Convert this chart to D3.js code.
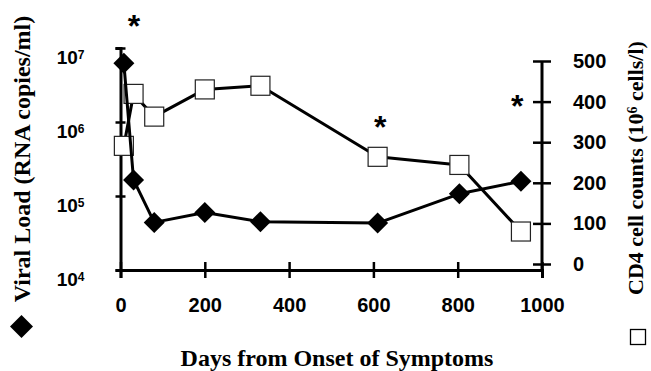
<!DOCTYPE html>
<html>
<head>
<meta charset="utf-8">
<script src="https://cdn.jsdelivr.net/npm/d3@7"></script>
<style>
  body { margin: 0; background: #fff; }
  svg { display: block; }
</style>
</head>
<body>
<div id="chart"></div>
<script>
// days after onset, shared by both series
var days = [8, 31, 80, 200, 332, 610, 804, 950]
var viralLoad = [6.2e6, 1.65e5, 4.4e4, 6.0e4, 4.5e4, 4.3e4, 1.07e5, 1.58e5]
var cd4 = [291, 419, 363, 430, 439, 264, 244, 80]

var xTicks = [0, 200, 400, 600, 800, 1000]
var vlTicks = [1e4, 1e5, 1e6, 1e7]
var cd4Ticks = [0, 100, 200, 300, 400, 500]

// significance stars (day, cd4 units)
var starDays = [32, 616, 941]
var starLevels = [600, 352, 405]

var width = 651, height = 371

var svg = d3.select("#chart")
  .append("svg")
  .attr("width", width)
  .attr("height", height)

var x = d3.scaleLinear().domain([0, 1000]).range([120.5, 542])
var yL = d3.scaleLog().domain([1e4, 1e7]).range([270, 48])
var yR = d3.scaleLinear().domain([0, 500]).range([264, 61])

var sans = "'Liberation Sans', Arial, sans-serif"
var serif = "'Liberation Serif', 'Times New Roman', serif"

// x axis
var gx = svg.append("g")
  .attr("transform", "translate(0," + yL(1e4) + ")")
  .call(d3.axisBottom(x).tickValues(xTicks).tickFormat(d3.format("d"))
    .tickSizeOuter(0).tickSize(8).tickPadding(0))
gx.select(".domain").attr("stroke-width", 3)
gx.selectAll(".tick line").attr("y1", -8).attr("y2", 8).attr("stroke-width", 2.5)
gx.selectAll(".tick text")
  .attr("y", 28)
  .style("font", "bold 20px " + sans)

// left axis (log)
var gl = svg.append("g")
  .attr("transform", "translate(" + x(0) + ",0)")
  .call(d3.axisLeft(yL).tickValues(vlTicks).tickSizeOuter(0).tickSize(5))
gl.select(".domain").attr("stroke-width", 3)
gl.selectAll(".tick line").attr("x1", -5).attr("x2", 5).attr("stroke-width", 2.5)
gl.selectAll(".tick text").each(function(d) {
  var t = d3.select(this)
  t.text(null)
    .attr("x", -36)
    .attr("y", 9)
    .attr("dy", "0.35em")
    .style("font", "bold 19px " + sans)
  t.append("tspan").text("10")
  t.append("tspan")
    .attr("dy", "-0.45em")
    .style("font-size", "12px")
    .text(Math.round(Math.log10(d)))
})

// right axis
var gr = svg.append("g")
  .attr("transform", "translate(" + x(1000) + ",0)")
  .call(d3.axisRight(yR).tickValues(cd4Ticks).tickSizeOuter(0).tickSize(9))
gr.select(".domain").remove()
gr.append("line")
  .attr("y1", yR(500)).attr("y2", yL(1e4))
  .attr("stroke", "#000").attr("stroke-width", 3)
gr.selectAll(".tick line").attr("x1", -9).attr("x2", 9).attr("stroke-width", 2.5)
gr.selectAll(".tick text")
  .attr("x", 31)
  .style("font", "bold 20px " + sans)

// CD4 series
var cdPts = days.map(function(d, i) { return [x(d), yR(cd4[i])] })
svg.append("path")
  .attr("d", d3.line()(cdPts))
  .attr("fill", "none")
  .attr("stroke", "#000")
  .attr("stroke-width", 3)
  .attr("stroke-linejoin", "round")

svg.selectAll("rect.cd4")
  .data(cdPts)
  .enter()
  .append("rect")
  .attr("class", "cd4")
  .attr("x", function(d) { return d[0] - 9.5 })
  .attr("y", function(d) { return d[1] - 9.5 })
  .attr("width", 19)
  .attr("height", 19)
  .attr("fill", "#fff")
  .attr("stroke", "#222")
  .attr("stroke-width", 1.2)

// viral load series
var vlPts = days.map(function(d, i) { return [x(d), yL(viralLoad[i])] })
svg.append("path")
  .attr("d", d3.line()(vlPts))
  .attr("fill", "none")
  .attr("stroke", "#000")
  .attr("stroke-width", 3)
  .attr("stroke-linejoin", "round")

function diamond(r) {
  return "M0," + (-r) + "L" + r + ",0L0," + r + "L" + (-r) + ",0Z"
}

svg.selectAll("path.vl")
  .data(vlPts)
  .enter()
  .append("path")
  .attr("class", "vl")
  .attr("d", diamond(10.5))
  .attr("transform", function(d) { return "translate(" + d[0] + "," + d[1] + ")" })
  .attr("fill", "#000")

// stars
svg.selectAll("text.star")
  .data(starDays)
  .enter()
  .append("text")
  .attr("class", "star")
  .attr("x", function(d) { return x(d) })
  .attr("y", function(d, i) { return yR(starLevels[i]) + 17 })
  .attr("text-anchor", "middle")
  .style("font", "bold 32px " + sans)
  .text("*")

// axis titles
svg.append("text")
  .attr("x", 337)
  .attr("y", 366)
  .attr("text-anchor", "middle")
  .style("font", "bold 24px " + serif)
  .text("Days from Onset of Symptoms")

svg.append("text")
  .attr("transform", "translate(30,159) rotate(-90)")
  .attr("text-anchor", "middle")
  .style("font", "bold 24px " + serif)
  .text("Viral Load (RNA copies/ml)")

svg.append("path")
  .attr("d", diamond(11.5))
  .attr("transform", "translate(21.5,326.5)")
  .attr("fill", "#000")

var rt = svg.append("text")
  .attr("transform", "translate(643,168) rotate(-90)")
  .attr("text-anchor", "middle")
  .style("font", "bold 22px " + serif)
rt.append("tspan").text("CD4 cell counts (10")
rt.append("tspan").attr("dy", "-0.45em").style("font-size", "14px").text("6")
rt.append("tspan").attr("dy", "0.3em").text(" cells/l)")

svg.append("rect")
  .attr("x", 630.5).attr("y", 329.5)
  .attr("width", 15).attr("height", 15)
  .attr("fill", "#fff")
  .attr("stroke", "#000")
  .attr("stroke-width", 1.3)
</script>
</body>
</html>
